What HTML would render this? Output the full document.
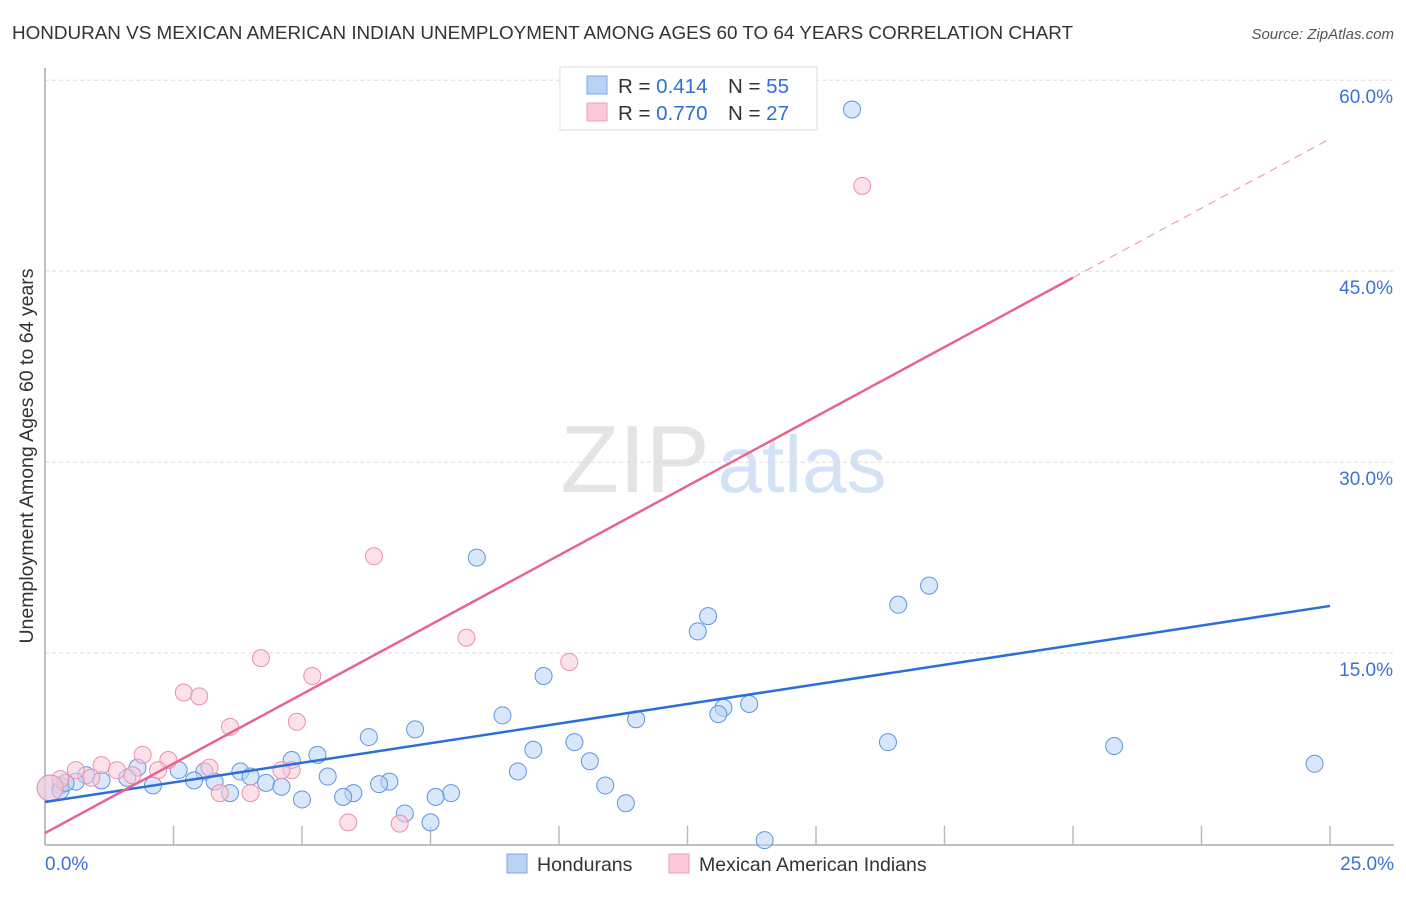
<!DOCTYPE html>
<html><head><meta charset="utf-8"><style>
body{margin:0;background:#fff;font-family:"Liberation Sans",sans-serif;}
svg text{font-family:"Liberation Sans",sans-serif;}
</style></head><body>
<svg id="chart" width="1406" height="892">
<text x="12" y="39" font-size="18" fill="#333" textLength="1061" lengthAdjust="spacingAndGlyphs">HONDURAN VS MEXICAN AMERICAN INDIAN UNEMPLOYMENT AMONG AGES 60 TO 64 YEARS CORRELATION CHART</text>
<text x="1394" y="39" font-size="15" fill="#555" font-style="italic" text-anchor="end">Source: ZipAtlas.com</text>
<text x="33" y="456" font-size="19.5" fill="#333" text-anchor="middle" transform="rotate(-90 33 456)">Unemployment Among Ages 60 to 64 years</text>
<g><text x="635" y="492" font-size="96" fill="#e4e4e4" font-family="Liberation Serif" text-anchor="middle">ZIP</text><text x="802" y="492" font-size="80" fill="#d4e2f5" text-anchor="middle">atlas</text></g>
<g id="grid"></g><g id="axes"></g><g id="pts"></g><g id="lines"></g>
<g>
<rect x="560" y="67" width="257" height="63" fill="#fff" stroke="#ddd"/>
<rect x="587" y="76" width="20" height="18" fill="#b9d3f5" stroke="#7eaae6"/>
<rect x="587" y="103" width="20" height="18" fill="#fbc9d7" stroke="#ef9fb6"/>
<text x="618" y="93" font-size="20.5" fill="#333">R = <tspan fill="#2f6fd4">0.414</tspan><tspan x="728">N = </tspan><tspan fill="#2f6fd4">55</tspan></text>
<text x="618" y="120" font-size="20.5" fill="#333">R = <tspan fill="#2f6fd4">0.770</tspan><tspan x="728">N = </tspan><tspan fill="#2f6fd4">27</tspan></text>
</g>
<g>
<rect x="507" y="854" width="20" height="19" fill="#b9d3f5" stroke="#7eaae6"/>
<text x="537" y="871" font-size="19.5" fill="#333">Hondurans</text>
<rect x="669" y="854" width="20" height="19" fill="#fbc9d7" stroke="#ef9fb6"/>
<text x="699" y="871" font-size="19.5" fill="#333">Mexican American Indians</text>
</g>
</svg>
<script>
const yTicks=[15,30,45,60];
const xTickLabels=["0.0%","25.0%"];
const blueX=[15.7,8.4,17.2,16.6,12.9,12.7,9.7,13.7,13.2,13.1,8.9,11.5,7.2,6.3,16.4,20.8,10.3,9.5,5.3,4.8,10.6,24.7,9.2,1.8,2.6,3.1,3.8,4.0,5.5,0.8,1.1,1.6,0.6,2.9,3.3,4.3,6.7,6.5,10.9,4.6,2.1,0.3,0.1,7.9,7.6,6.0,3.6,5.8,5.0,11.3,7.0,7.5,14.0,0.3,0.4];
const blueY=[57.7,22.5,20.3,18.8,17.9,16.7,13.2,11.0,10.7,10.2,10.1,9.8,9.0,8.4,8.0,7.7,8.0,7.4,7.0,6.6,6.5,6.3,5.7,6.0,5.8,5.7,5.7,5.3,5.3,5.4,5.0,5.2,4.9,5.0,4.9,4.8,4.9,4.7,4.6,4.5,4.6,4.6,4.4,4.0,3.7,4.0,4.0,3.7,3.5,3.2,2.4,1.7,0.3,4.2,4.8];
const pinkX=[15.9,6.4,8.2,10.2,4.2,5.2,2.7,3.0,4.9,3.6,1.9,2.4,1.1,3.2,0.6,1.4,2.2,4.8,4.6,1.7,0.3,0.9,3.4,4.0,5.9,6.9,0.1];
const pinkY=[51.7,22.6,16.2,14.3,14.6,13.2,11.9,11.6,9.6,9.2,7.0,6.6,6.2,6.0,5.8,5.8,5.8,5.8,5.8,5.4,5.1,5.2,4.0,4.0,1.7,1.6,4.4];
const blueFit=[3.3,18.7], pinkFit=[0.86,55.4], pinkSolidEnd=20;
const X=v=>45+v*51.4, Y=v=>844-v*12.73;
const NS="http://www.w3.org/2000/svg";
function mk(t,a,p){const e=document.createElementNS(NS,t);for(const k in a)e.setAttribute(k,a[k]);document.getElementById(p).appendChild(e);return e;}
yTicks.forEach(t=>{
 const l=mk('line',{x1:45,x2:1394,y1:Y(t),y2:Y(t),stroke:'#ddd','stroke-dasharray':'4,3'},'grid');
 
 
 const tx=mk('text',{x:1393,y:Y(t)+23,'font-size':19,fill:'#3a72d6','text-anchor':'end'},'grid');
 tx.textContent=t.toFixed(1)+'%';
 
 
});
const ax=mk('line',{x1:45,x2:1394,y1:845,y2:845,stroke:'#aaa','stroke-width':1.5},'axes');


const ay=mk('line',{x1:45,x2:45,y1:68,y2:845,stroke:'#aaa','stroke-width':1.5},'axes');


for(let i=1;i<=10;i++){const t=mk('line',{x1:X(i*2.5),x2:X(i*2.5),y1:826,y2:845,stroke:'#bbb','stroke-width':1.5},'axes');
 
 }
[[0,'start',45],[1,'end',1394]].forEach(([i,a,x])=>{const t=mk('text',{x:x,y:870,'font-size':19,fill:'#3a72d6','text-anchor':a},'axes');t.textContent=xTickLabels[i];
 
 });
function pts(xs,ys,f,s,n){xs.forEach((x,i)=>{const r=(x<0.2)?13:8.5;const c=mk('circle',{cx:X(x),cy:Y(ys[i]),r:r,fill:f,'fill-opacity':0.55,stroke:s,'stroke-width':1},'pts');
 
 });}
pts(blueX,blueY,'#b9d3f5','#5f95e0','honduran-point');
pts(pinkX,pinkY,'#fbc9d7','#ec8fab','mexican-point');
const bl=mk('line',{x1:X(0),y1:Y(blueFit[0]),x2:X(25),y2:Y(blueFit[1]),stroke:'#2a6fd8','stroke-width':2.5},'lines');


const pe=pinkFit[0]+(pinkFit[1]-pinkFit[0])*pinkSolidEnd/25;
const pl=mk('line',{x1:X(0),y1:Y(pinkFit[0]),x2:X(pinkSolidEnd),y2:Y(pe),stroke:'#e8648f','stroke-width':2.5},'lines');


const pd=mk('line',{x1:X(pinkSolidEnd),y1:Y(pe),x2:X(25),y2:Y(pinkFit[1]),stroke:'#eaa0b8','stroke-width':1.2,'stroke-dasharray':'8,6'},'lines');


</script>
</body></html>
